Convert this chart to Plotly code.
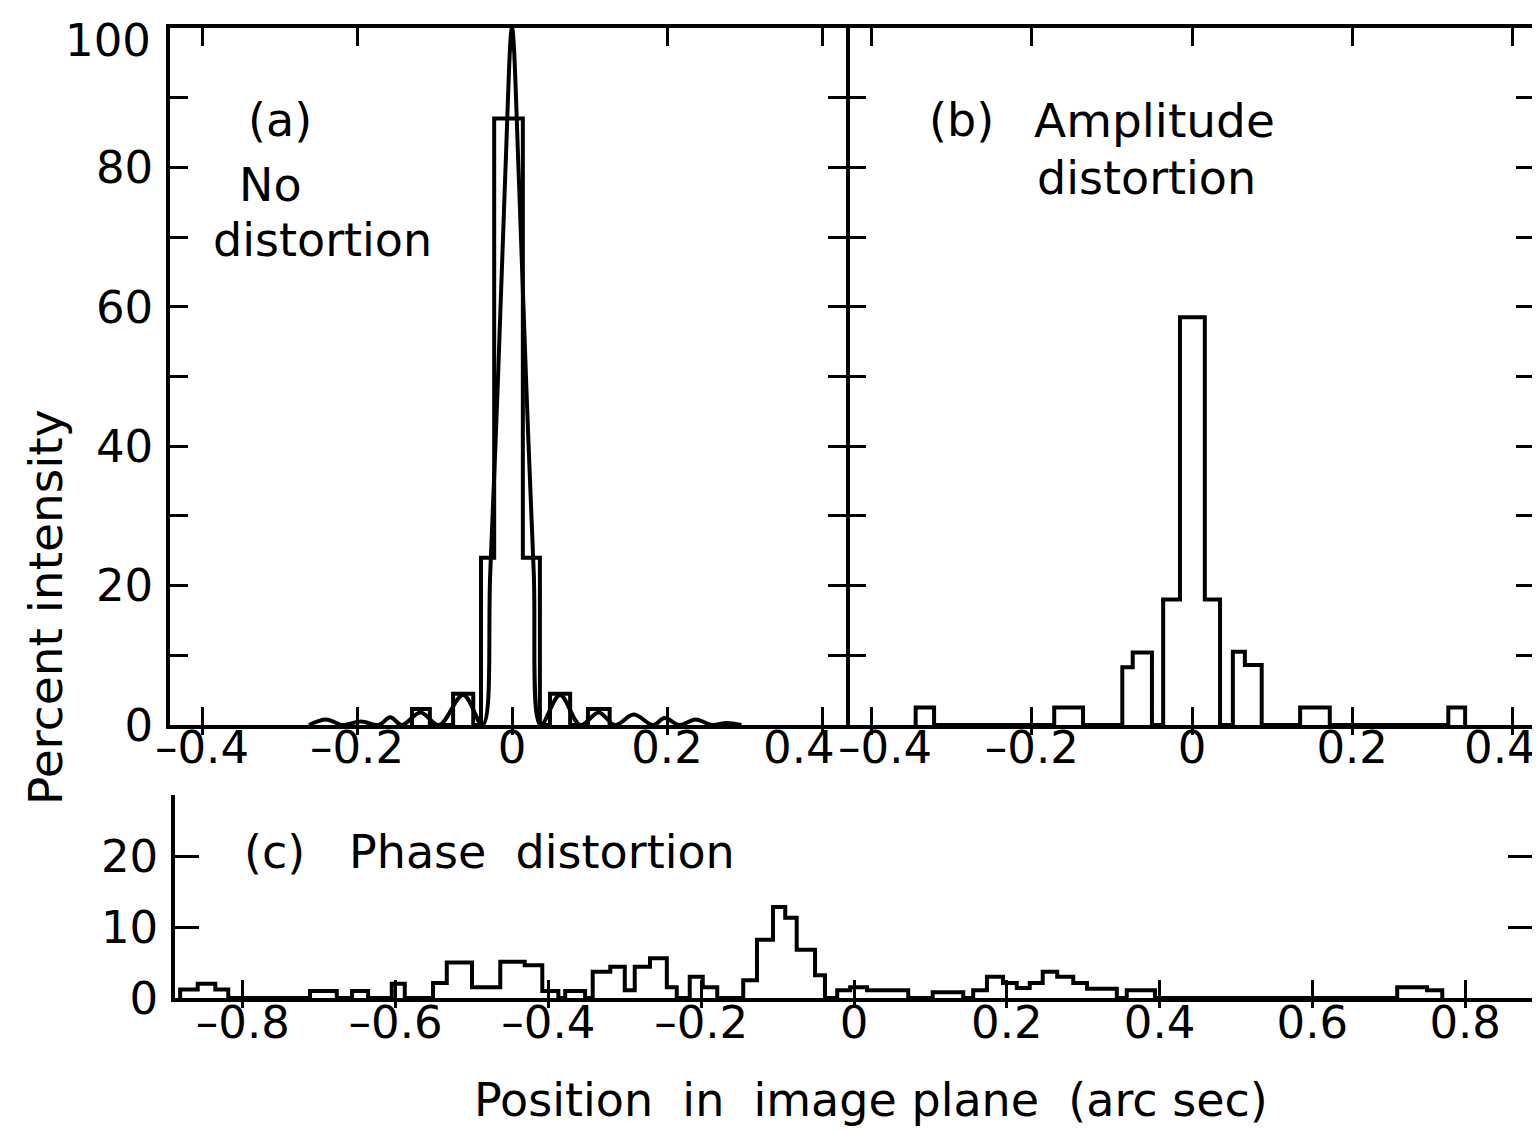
import plotly.graph_objects as go

# ---------------- data ----------------
# Panel (a): histogram bin edges (arc sec) and heights (percent)
a_edges = [-0.129, -0.106, -0.076, -0.050, -0.040, -0.023, 0.014, 0.036, 0.049, 0.075, 0.098, 0.126]
a_heights = [2.3, 0, 4.5, 0, 24, 87, 24, 0, 4.5, 0, 2.3]

# Panel (a): smooth undistorted response curve
a_curve_x = [-0.262, -0.240, -0.218, -0.195, -0.172, -0.157, -0.142, -0.118, -0.094,
             -0.063, -0.038, -0.028, -0.018, -0.009, 0.000, 0.009, 0.018, 0.028, 0.037, 0.062,
             0.088, 0.112, 0.133, 0.157, 0.182, 0.197, 0.216, 0.237, 0.258, 0.277, 0.296]
a_curve_y = [0.0, 0.8, 0.0, 0.5, 0.0, 1.1, 0.0, 1.8, 0.0,
             4.3, 0.0, 22, 50, 78, 100, 78, 50, 22, 0.0, 4.3,
             0.0, 1.8, 0.0, 1.5, 0.0, 1.0, 0.0, 0.8, 0.0, 0.3, 0.0]

# Panel (b): amplitude distortion histogram
b_edges = [-0.345, -0.322, -0.172, -0.136, -0.087, -0.074, -0.050, -0.036, -0.015, 0.016,
           0.035, 0.051, 0.066, 0.087, 0.135, 0.172, 0.320, 0.341]
b_heights = [2.5, 0, 2.5, 0, 8.3, 10.4, 0, 18, 58.5, 18, 0, 10.5, 8.6, 0, 2.5, 0, 2.5]

# Panel (c): phase distortion histogram
c_edges = [-0.882, -0.859, -0.836, -0.819, -0.712, -0.677, -0.657, -0.636, -0.605, -0.588,
           -0.551, -0.533, -0.500, -0.463, -0.431, -0.408, -0.387, -0.378, -0.352, -0.342,
           -0.319, -0.300, -0.287, -0.267, -0.245, -0.232, -0.215, -0.198, -0.179, -0.145,
           -0.127, -0.106, -0.090, -0.075, -0.051, -0.038, -0.022, -0.005, 0.017, 0.071,
           0.103, 0.143, 0.156, 0.174, 0.195, 0.213, 0.230, 0.247, 0.266, 0.287,
           0.305, 0.344, 0.357, 0.394, 0.711, 0.750, 0.770]
c_heights = [1.2, 2.0, 1.2, 0, 1.0, 0, 1.0, 0, 2.0, 0,
             2.1, 5.0, 1.5, 5.1, 4.6, 1.0, 0, 1.0, 0, 3.7,
             4.4, 1.1, 4.4, 5.6, 1.5, 0, 3.0, 1.5, 0, 2.5,
             8.2, 12.8, 11.3, 6.8, 3.2, 0, 1.1, 1.5, 1.1, 0,
             0.8, 0, 1.1, 3.0, 2.1, 1.4, 2.1, 3.7, 3.0, 2.1,
             1.3, 0, 1.1, 0, 1.5, 1.1]

# Tick values / labels
top_xticks = [-0.4, -0.2, 0, 0.2, 0.4]
a_xticktext = ["\u20130.4", "\u20130.2", "0", "0.2", ""]
b_xticktext = ["", "\u20130.2", "0", "0.2", ""]
edge_xlabels = ["0.4", "\u20130.4", "0.4"]   # crowded / edge labels, placed individually
top_yticks = [0, 10, 20, 30, 40, 50, 60, 70, 80, 90, 100]
top_yticktext = ["0", "", "20", "", "40", "", "60", "", "80", "", ""]
top_ylabel_100 = "100"
c_xticks = [-0.8, -0.6, -0.4, -0.2, 0, 0.2, 0.4, 0.6, 0.8]
c_xticktext = ["\u20130.8", "\u20130.6", "\u20130.4", "\u20130.2", "0", "0.2", "0.4", "0.6", "0.8"]
c_yticks = [0, 10, 20]
c_yticktext = ["0", "10", "20"]

assert len(a_edges) == len(a_heights) + 1
assert len(b_edges) == len(b_heights) + 1
assert len(c_edges) == len(c_heights) + 1

# ---------------- layout geometry (pixels in the 1540x1132 page) ----------------
OFF = 8                       # default body margin of the html page
W, H = 1540 - OFF, 1132 - OFF  # figure size
FONT = "DejaVu Sans"
LW = 4


def fx(p):
    return (p - OFF) / W


def fy(p):
    return 1 - (p - OFF) / H


def step_xy(edges, heights):
    xs = [edges[0]] + list(edges[:-1]) + [edges[-1]]
    ys = [0] + list(heights) + [0]
    return xs, ys


dom_a = [fx(170), fx(846)]
dom_b = [fx(850), fx(1532)]
dom_c = [fx(175), fx(1532)]
dom_top_y = [fy(725), fy(28)]
dom_c_y = [fy(998), fy(795)]

range_a = [(170 - 512) / 775, (846 - 512) / 775]
range_b = [(850 - 1192) / 801, (1532 - 1192) / 801]
range_c = [(175 - 854) / 764, (1532 - 854) / 764]
range_c_y = [0, (998 - 795) / 7.1]

fig = go.Figure()
line = dict(color="black", width=LW)

xa, ya = step_xy(a_edges, a_heights)
fig.add_trace(go.Scatter(x=xa, y=ya, mode="lines", line=dict(line, shape="hv"), xaxis="x", yaxis="y"))
fig.add_trace(go.Scatter(x=a_curve_x, y=a_curve_y, mode="lines",
                         line=dict(color="black", width=LW, shape="spline", smoothing=1.0),
                         xaxis="x", yaxis="y"))
xb, yb = step_xy(b_edges, b_heights)
fig.add_trace(go.Scatter(x=xb, y=yb, mode="lines", line=dict(line, shape="hv"), xaxis="x2", yaxis="y2"))
xc, yc = step_xy(c_edges, c_heights)
fig.add_trace(go.Scatter(x=xc, y=yc, mode="lines", line=dict(line, shape="hv"), xaxis="x3", yaxis="y3"))
# empty traces so the overlay tick axes are drawn
for xa_id, ya_id in (("x4", "y"), ("x5", "y2"), ("x6", "y3")):
    fig.add_trace(go.Scatter(x=[], y=[], mode="lines", xaxis=xa_id, yaxis=ya_id))

TICK_SIZE = 45
tickfont = dict(family=FONT, size=TICK_SIZE, color="black")
base = dict(showline=True, linecolor="black", linewidth=3.5, showgrid=False, zeroline=False,
            ticks="inside", tickcolor="black", tickwidth=3, ticklen=18, tickfont=tickfont,
            fixedrange=True, automargin=False, ticklabeloverflow="allow")

layout = dict(
    template="none",
    width=W, height=H, margin=dict(l=0, r=0, t=0, b=0, pad=0, autoexpand=False),
    paper_bgcolor="white", plot_bgcolor="white", showlegend=False,
    xaxis=dict(base, domain=dom_a, range=range_a, anchor="y", tickmode="array",
               tickvals=top_xticks, ticktext=a_xticktext, mirror="ticks", ticklabelstandoff=-20),
    yaxis=dict(base, domain=dom_top_y, range=[0, 100], anchor="x", tickmode="array",
               tickvals=top_yticks, ticktext=top_yticktext, mirror="ticks", ticklabelstandoff=4),
    xaxis2=dict(base, domain=dom_b, range=range_b, anchor="y2", tickmode="array",
                tickvals=top_xticks, ticktext=b_xticktext, mirror="ticks", ticklabelstandoff=-20),
    yaxis2=dict(base, domain=dom_top_y, range=[0, 100], anchor="x2", side="right", tickmode="array",
                tickvals=top_yticks, showticklabels=False, mirror="ticks", ticklen=16),
    xaxis3=dict(base, domain=dom_c, range=range_c, anchor="y3", tickmode="array",
                tickvals=c_xticks, ticktext=c_xticktext, mirror=False, ticklabelstandoff=-18),
    yaxis3=dict(base, domain=dom_c_y, range=range_c_y, anchor="x3", tickmode="array",
                tickvals=c_yticks, ticktext=c_yticktext, mirror="ticks", ticklen=24,
                ticklabelstandoff=4),
)
over = dict(showline=False, showgrid=False, zeroline=False, ticks="outside", tickcolor="black",
            tickwidth=3, ticklen=9, showticklabels=False, fixedrange=True, tickmode="array",
            automargin=False)
layout["xaxis4"] = dict(over, overlaying="x", anchor="y", domain=dom_a, range=range_a, tickvals=top_xticks)
layout["xaxis5"] = dict(over, overlaying="x2", anchor="y2", domain=dom_b, range=range_b, tickvals=top_xticks)
layout["xaxis6"] = dict(over, overlaying="x3", anchor="y3", domain=dom_c, range=range_c, tickvals=c_xticks)


def ann(text, xp, yp, angle=0, size=46, xanchor="center"):
    return dict(text=text, x=fx(xp), y=fy(yp), xref="paper", yref="paper", showarrow=False,
                xanchor=xanchor, yanchor="middle", textangle=angle,
                font=dict(family=FONT, size=size, color="black"))


layout["annotations"] = [
    ann("(a)", 280, 120),
    ann("No", 270, 185),
    ann("distortion", 322, 240),
    ann("(b)", 961, 120),
    ann("Amplitude", 1154, 120, size=47),
    ann("distortion", 1146, 178),
    ann("(c)", 274, 852),
    ann("Phase\u00a0\u00a0distortion", 542, 852),
    ann("Percent intensity", 45, 607, angle=-90, size=47),
    ann("Position\u00a0 in\u00a0 image plane\u00a0 (arc sec)", 871, 1100, size=46),
    # tick labels that sit on crowded boundaries / page edges
    ann(edge_xlabels[0], 799, 747, size=TICK_SIZE),
    ann(edge_xlabels[1], 885, 747, size=TICK_SIZE),
    ann(edge_xlabels[2], 1538, 747, size=TICK_SIZE, xanchor="right"),
    ann(top_ylabel_100, 153, 40, size=TICK_SIZE, xanchor="right"),
]

fig.update_layout(layout)
fig.write_html("out.html")
